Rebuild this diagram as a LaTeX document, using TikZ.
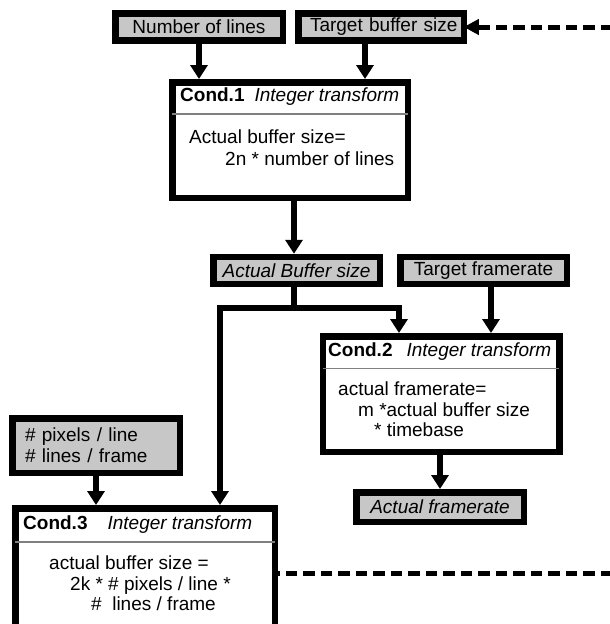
\documentclass[tikz,border=0pt]{standalone}
\usepackage{fontspec}
\setmainfont{Liberation Sans}
\usetikzlibrary{arrows.meta,calc}
\definecolor{boxgray}{gray}{0.78}

\begin{document}
\begin{tikzpicture}[x=1pt,y=-1pt,
  every node/.style={font=\fontsize{19}{21}\selectfont},
  inbox/.style={draw,line width=6.5pt,fill=boxgray,inner sep=0pt},
  condbox/.style={draw,line width=6.5pt,fill=white,inner sep=0pt},
  textnode/.style={inner sep=0pt,align=left},
  flow/.style={line width=6pt,-{Triangle[width=17pt,length=14pt]}},
  feedback/.style={line width=5pt,dash pattern=on 11.5pt off 6pt},
  divider/.style={draw=gray,line width=1.2pt,shorten <=3.25pt,shorten >=3.25pt}]
  \useasboundingbox (0,0) rectangle (610,624);
  % Inputs, top row
  \node[inbox,minimum width=167.5pt,minimum height=27pt] (nol) at (199,27) {Number of lines};
  \node[inbox,minimum width=165.5pt,minimum height=27pt,text width=153pt,align=right] (tbs) at (381,27) {Target buffer size};
  % Cond.1
  \node[condbox,minimum width=235.5pt,minimum height=115.5pt] (c1) at (290,140) {};
  \draw[divider] (c1.west |- 0,114) -- (c1.east |- 0,114);
  \node[textnode,anchor=west] (c1title) at (180,97) {\textbf{Cond.1}\hspace{10pt}\textit{Integer transform}};
  \node[textnode,anchor=north west,font=\fontsize{19}{21.5}\selectfont] (c1body) at (189,130)
    {Actual buffer size=\\\hspace*{36pt}2n * number of lines};
  % Second row
  \node[inbox,minimum width=166.5pt,minimum height=27pt] (abs) at (296.5,270.5) {\textit{Actual Buffer size}};
  \node[inbox,minimum width=166.5pt,minimum height=27pt] (tf) at (483.5,270.5) {Target framerate};
  % Cond.2
  \node[condbox,minimum width=236.5pt,minimum height=115.5pt] (c2) at (441,394) {};
  \draw[divider] (c2.west |- 0,368.5) -- (c2.east |- 0,368.5);
  \node[textnode,anchor=west] (c2title) at (328,352) {\textbf{Cond.2}\hspace{14pt}\textit{Integer transform}};
  \node[textnode,anchor=north west,font=\fontsize{19}{20.5}\selectfont] (c2body) at (338,382)
    {actual framerate=\\\hspace*{20pt}m *actual buffer size\\\hspace*{36pt}* timebase};
  \node[inbox,minimum width=167.5pt,minimum height=29.5pt] (af) at (440,507) {\textit{Actual framerate}};
  % Image size inputs
  \node[inbox,minimum width=167.5pt,minimum height=54.5pt,inner xsep=12.75pt,text width=142pt,align=left] (pix) at (96,445.5)
    {\# pixels / line\\\# lines / frame};
  % Cond.3
  \node[condbox,minimum width=259.5pt,minimum height=120.5pt] (c3) at (145,568.5) {};
  \draw[divider] (c3.west |- 0,542) -- (c3.east |- 0,542);
  \node[textnode,anchor=west] (c3title) at (23,525) {\textbf{Cond.3}\hspace{20pt}\textit{Integer transform}};
  \node[textnode,anchor=north west,font=\fontsize{19}{20.5}\selectfont] (c3body) at (49,556)
    {actual buffer size =\\\hspace*{21pt}2k * \# pixels / line *\\\hspace*{42pt}\#\ \ lines / frame};
  % Connectors
  \coordinate (tbsout) at ($(tbs.south)+(-16,0)$);
  \coordinate (c1out) at ($(c1.south)+(4,0)$);
  \coordinate (tfout) at ($(tf.south)+(7.5,0)$);
  \coordinate (split) at (294,308);
  \coordinate (j1) at (399,308);
  \coordinate (j2) at (220,308);
  \draw[flow] (nol.south) -- (nol.south |- c1.north);
  \draw[flow] (tbsout) -- (tbsout |- c1.north);
  \draw[flow] (c1out) -- (c1out |- abs.north);
  \draw[flow] (c1out |- abs.south) |- (j1) -- (j1 |- c2.north);
  \draw[flow] (split) -| (j2 |- c3.north);
  \draw[flow] (tfout) -- (tfout |- c2.north);
  \draw[flow] (c2.south -| af.north) -- (af.north);
  \draw[flow] (pix.south) -- (pix.south |- c3.north);
  % Feedback, dashed
  \coordinate (fbtop) at (612,27);
  \coordinate (fbbot) at (612,573);
  \draw[feedback,-{Triangle[width=15pt,length=15pt]},shorten >=-3.25pt] (fbtop) -- (tbs.east);
  \draw[feedback] (fbbot) -- (c3.east |- fbbot);
\end{tikzpicture}
\end{document}
